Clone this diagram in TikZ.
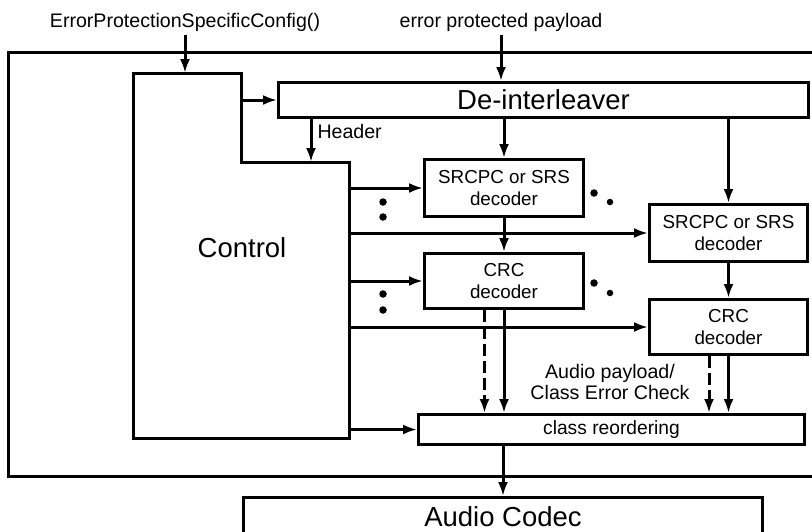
\documentclass[tikz,border=0pt]{standalone}
\usepackage{fontspec}
\setmainfont{Liberation Sans}
\usetikzlibrary{arrows.meta,positioning}

\begin{document}
\begin{tikzpicture}[
  x=1pt, y=-1pt,
  line width=3pt,
  box/.style={rectangle, draw, line width=3pt, inner sep=0pt, anchor=north west, align=center, font=\fontsize{18.8}{22}\selectfont},
  bigbox/.style={box, font=\fontsize{27.5}{30}\selectfont},
  lbl/.style={inner sep=2pt, align=center, font=\fontsize{19.6}{21}\selectfont},
  arr/.style={line width=3pt, -{Latex[length=14pt,width=10pt]}},
  dot/.style={circle, fill, draw=none, inner sep=0pt, minimum size=7.5pt}
]
\useasboundingbox (0,0) rectangle (812,531);
\clip (0,0) rectangle (812,531);

\node[box, minimum width=830pt, minimum height=424pt] (frame) at (7,51) {};

\coordinate (c1) at (133,73);
\coordinate (c2) at (241,73);
\coordinate (c3) at (241,162);
\coordinate (c4) at (349,162);
\coordinate (c5) at (349,438);
\coordinate (c6) at (133,438);
\draw[line width=3pt] (c1) -- (c2) -- (c3) -- (c4) -- (c5) -- (c6) -- cycle;
\node[font=\fontsize{27.5}{30}\selectfont] (ctrl) at (242,248) {Control};

\node[bigbox, minimum width=530pt, minimum height=35pt] (deint) at (277,81) {De-interleaver};
\node[box, minimum width=159pt, minimum height=57pt] (srcpcA) at (423,158) {SRCPC or SRS\\decoder};
\node[box, minimum width=158pt, minimum height=57pt] (srcpcB) at (648,203) {SRCPC or SRS\\decoder};
\node[box, minimum width=159pt, minimum height=55pt] (crcA) at (423,252) {CRC\\decoder};
\node[box, minimum width=158pt, minimum height=55pt] (crcB) at (648,298) {CRC\\decoder};
\node[box, minimum width=386pt, minimum height=30pt, font=\fontsize{19.2}{21}\selectfont] (reord) at (417,413) {class reordering};
\node[bigbox, minimum width=519pt, minimum height=38pt] (codec) at (242,496) {Audio Codec};

\node[lbl] (cfg) at (185,22) {ErrorProtectionSpecificConfig()};
\node[lbl] (payload) at (501,22) {error protected payload};
\node[lbl] (chk) at (610,382) {Audio payload/\\Class Error Check};

\coordinate (hdr) at (311,162);
\node[lbl, anchor=west, right=3pt of hdr, yshift=31pt] (hdrlbl) {Header};

\draw[arr] (cfg.south) -- (cfg.south |- c1);
\draw[arr] (payload.south) -- (payload.south |- deint.north);
\draw[arr] (deint.west -| c2) -- (deint.west);
\draw[arr] (deint.south -| hdr) -- (hdr);

\draw[arr] (deint.south -| srcpcA.north) -- (srcpcA.north);
\draw[arr] (deint.south -| srcpcB.north) -- (srcpcB.north);
\draw[arr] (srcpcA) -- (crcA);
\draw[arr] (srcpcB) -- (crcB);

\draw[arr] (srcpcA.west -| c4) -- (srcpcA.west);
\draw[arr] (srcpcB.west -| c4) -- (srcpcB.west);
\draw[arr] (crcA.west -| c4) -- (crcA.west);
\draw[arr] (crcB.west -| c4) -- (crcB.west);
\draw[arr] (reord.west -| c4) -- (reord.west);

\draw[arr] (crcA.south) -- (crcA.south |- reord.north);
\draw[arr, dash pattern=on 12pt off 5pt] ([xshift=-19.5pt]crcA.south) -- ([xshift=-19.5pt]crcA.south |- reord.north);
\draw[arr] (crcB.south) -- (crcB.south |- reord.north);
\draw[arr, dash pattern=on 12pt off 5pt] ([xshift=-19.5pt]crcB.south) -- ([xshift=-19.5pt]crcB.south |- reord.north);
\draw[arr] (reord.south -| codec.north) -- (codec.north);

\node[dot] (dA1) at (383,202) {};
\node[dot] (dA2) at (383,217) {};
\node[dot] (dB1) at (383,294) {};
\node[dot] (dB2) at (383,310) {};
\node[dot] (eA1) at (594,193) {};
\node[dot, minimum size=6.5pt] (eA2) at (610,202) {};
\node[dot] (eB1) at (594,283) {};
\node[dot, minimum size=6.5pt] (eB2) at (610,293) {};
\end{tikzpicture}
\end{document}
